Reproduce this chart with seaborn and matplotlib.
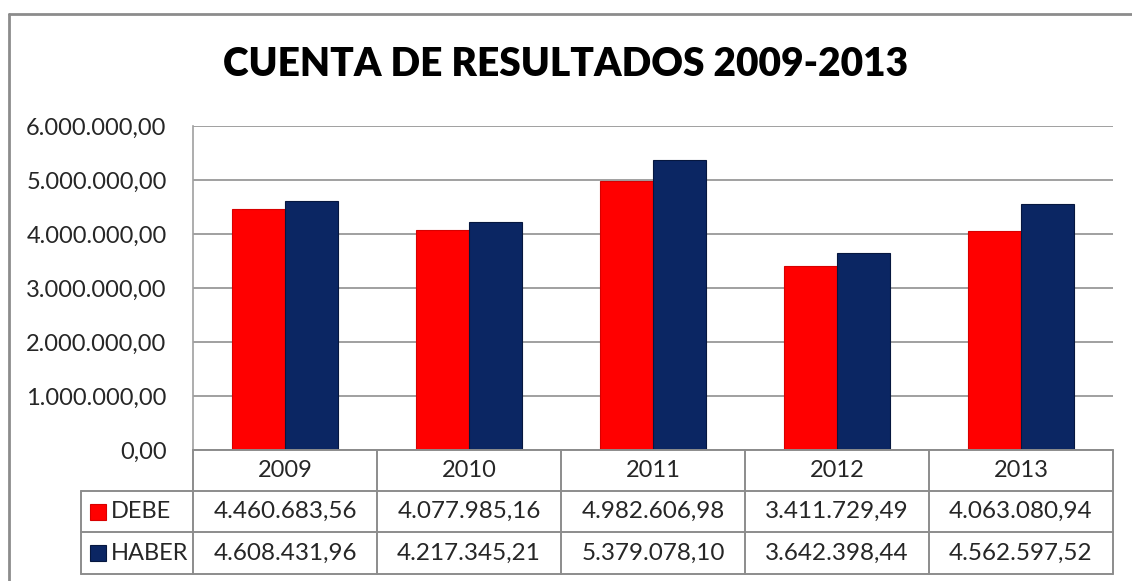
import numpy as np
import pandas as pd
import matplotlib
matplotlib.use("Agg")
import matplotlib.pyplot as plt
import seaborn as sns
from matplotlib.patches import Rectangle
from matplotlib.lines import Line2D

years = ["2009", "2010", "2011", "2012", "2013"]
debe = [4460683.56, 4077985.16, 4982606.98, 3411729.49, 4063080.94]
haber = [4608431.96, 4217345.21, 5379078.10, 3642398.44, 4562597.52]
series = ["DEBE", "HABER"]
colors = ["#FF0000", "#0B2663"]
edge_colors = ["#D80000", "#06173F"]
yticks = [0, 1000000, 2000000, 3000000, 4000000, 5000000, 6000000]

sns.set_style("white")
plt.rcParams["font.family"] = ["Lato", "DejaVu Sans"]


def es_fmt(v):
    s = f"{v:,.2f}"
    return s.replace(",", "X").replace(".", ",").replace("X", ".")


df = pd.DataFrame({
    "year": years * 2,
    "value": debe + haber,
    "serie": [series[0]] * len(years) + [series[1]] * len(years),
})

W, H = 1132, 581
fig = plt.figure(figsize=(W / 100, H / 100), dpi=100)


def fx(px):
    return px / W


def fy(py):
    return 1 - py / H


# plot area in pixels
L, R, T, B = 193, 1113, 126, 450
ax = fig.add_axes([fx(L), fy(B), fx(R) - fx(L), fy(T) - fy(B)])

sns.barplot(data=df, x="year", y="value", hue="serie", palette=colors,
            width=0.58, ax=ax, legend=False, saturation=1)
for i, cont in enumerate(ax.containers):
    for bar in cont:
        bar.set_edgecolor(edge_colors[i])
        bar.set_linewidth(0.8)
        bar.set_zorder(3)

ax.set_xlim(-0.5, len(years) - 0.5)
ax.set_ylim(0, 6000000)
ax.set_yticks(yticks)
ax.set_yticklabels([es_fmt(v) for v in yticks], fontsize=17)
ax.tick_params(axis="y", length=0, pad=19)
ax.set_xticks([])
ax.set_xlabel("")
ax.set_ylabel("")
ax.yaxis.grid(True, color="#A0A0A0", linewidth=1.4)
ax.set_axisbelow(True)
for s in ["top", "right", "bottom"]:
    ax.spines[s].set_visible(False)
ax.spines["left"].set_color("#A0A0A0")
ax.spines["left"].set_linewidth(1.2)

# title
fig.text(0.5, fy(65), "CUENTA DE RESULTADOS 2009-2013", ha="center", va="center",
         fontsize=28, fontweight="heavy", color="black")

# outer chart frame
frame_kw = dict(transform=fig.transFigure, color="#8C8C8C", linewidth=2)
fig.add_artist(Line2D([fx(9), fx(9)], [fy(14), 0], **frame_kw))
fig.add_artist(Line2D([fx(9), 1], [fy(14), fy(14)], **frame_kw))

# data table below the plot
line_kw = dict(transform=fig.transFigure, color="#8C8C8C", linewidth=1.4)
rows = [450, 491, 532, 574]
col_w = (R - L) / len(years)
cols = [L + i * col_w for i in range(len(years) + 1)]
left_col = 81

for y in rows:
    x0 = L if y == rows[0] else left_col
    fig.add_artist(Line2D([fx(x0), fx(R)], [fy(y), fy(y)], **line_kw))
for x in cols:
    fig.add_artist(Line2D([fx(x), fx(x)], [fy(rows[0]), fy(rows[-1])], **line_kw))
fig.add_artist(Line2D([fx(left_col), fx(left_col)], [fy(rows[1]), fy(rows[-1])], **line_kw))

for i, yr in enumerate(years):
    cx = (cols[i] + cols[i + 1]) / 2
    fig.text(fx(cx), fy((rows[0] + rows[1]) / 2), yr, ha="center", va="center", fontsize=17)
    for r, vals in enumerate([debe, haber]):
        fig.text(fx(cx), fy((rows[r + 1] + rows[r + 2]) / 2), es_fmt(vals[i]),
                 ha="center", va="center", fontsize=17.5)

for r, name in enumerate(series):
    cy = (rows[r + 1] + rows[r + 2]) / 2
    fig.add_artist(Rectangle((fx(90), fy(cy + 8)), fx(16), fy(0) - fy(16),
                             transform=fig.transFigure, facecolor=colors[r],
                             edgecolor=edge_colors[r], linewidth=0.8))
    fig.text(fx(111), fy(cy), name, ha="left", va="center", fontsize=17)

fig.savefig("out.png", dpi=100, facecolor="white")
